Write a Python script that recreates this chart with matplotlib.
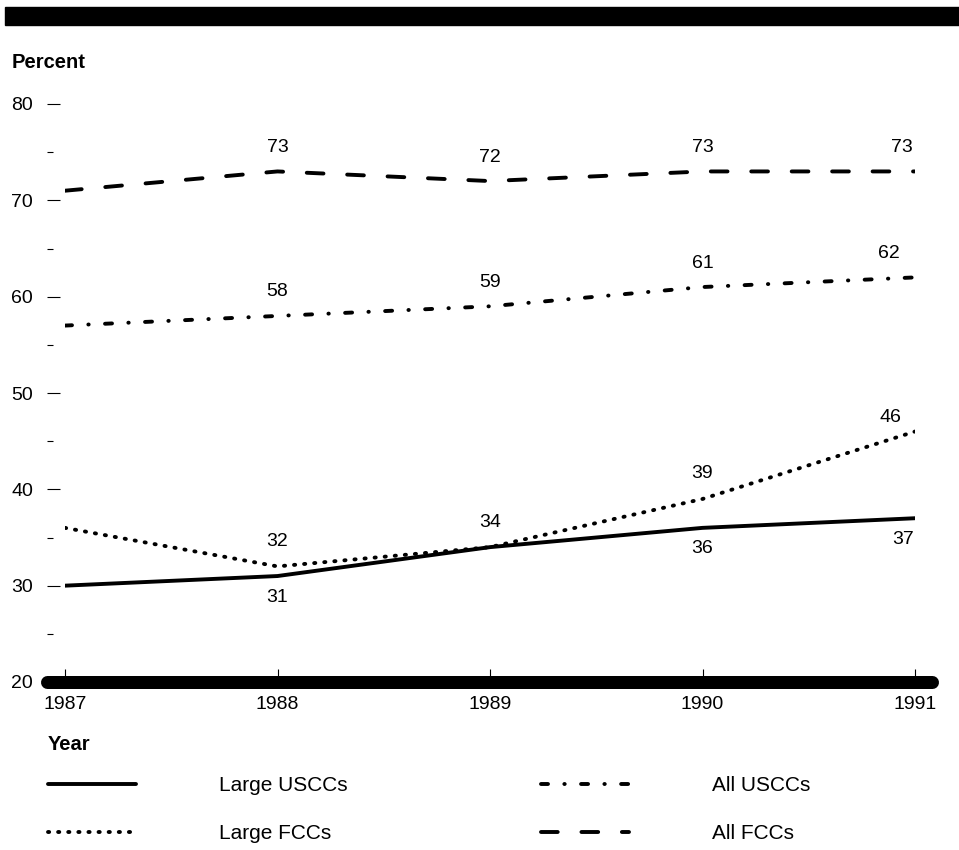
import matplotlib.pyplot as plt
from matplotlib.patches import Rectangle

plt.rcParams['font.family'] = ['Liberation Sans', 'DejaVu Sans']

# data
years = [1987, 1988, 1989, 1990, 1991]
large_usccs = [30, 31, 34, 36, 37]
large_fccs = [36, 32, 34, 39, 46]
all_usccs = [57, 58, 59, 61, 62]
all_fccs = [71, 73, 72, 73, 73]
y_major = [20, 30, 40, 50, 60, 70, 80]
y_minor = [25, 35, 45, 55, 65, 75]

fig = plt.figure(figsize=(9.59, 8.5), dpi=100)
ax = fig.add_axes([65 / 959, 1 - 682 / 850, 850 / 959, 578 / 850])

# black banner on top
fig.patches.append(Rectangle((5 / 959, 1 - 25 / 850), 1, 18 / 850,
                             transform=fig.transFigure, color='black'))

lw = 2.8
l1, = ax.plot(years, large_usccs, color='black', lw=lw, solid_capstyle='round',
              label='Large USCCs')
l2, = ax.plot(years, large_fccs, color='black', lw=lw, dashes=(0.3, 2.3),
              dash_capstyle='round', label='Large FCCs')
l3, = ax.plot(years, all_usccs, color='black', lw=lw, dashes=(1.8, 4.2, 0.1, 4.2),
              dash_capstyle='round', label='All USCCs')
l4, = ax.plot(years, all_fccs, color='black', lw=lw, dashes=(4.3, 6.1),
              dash_capstyle='round', label='All FCCs')

# value labels (1987 not labelled), offsets in pixels -> points
px = 0.72
def label(xs, ys, dy, shift_last=0, last_dy=None):
    for i, (x, y) in enumerate(zip(xs, ys)):
        if i == 0:
            continue
        dx = shift_last if i == len(xs) - 1 else 0
        d = last_dy if (last_dy is not None and i == len(xs) - 1) else dy
        ax.annotate(str(y), (x, y), xytext=(dx * px, d * px), textcoords='offset points',
                    ha='center', va='center', fontsize=14)

label(years, all_fccs, 24, shift_last=-13)
label(years, all_usccs, 24, shift_last=-26)
label(years, large_fccs, 25, shift_last=-25, last_dy=14)
for i in [1, 3, 4]:
    ax.annotate(str(large_usccs[i]), (years[i], large_usccs[i]),
                xytext=((-12 if i == 4 else 0) * px, -21 * px), textcoords='offset points',
                ha='center', va='center', fontsize=14)

ax.set_xlim(1987, 1991)
ax.set_ylim(20, 80)

for s in ax.spines.values():
    s.set_visible(False)
ax.spines['left'].set_position(('outward', 18 * px))

ax.set_yticks(y_major)
ax.set_yticks(y_minor, minor=True)
ax.tick_params(axis='y', which='major', direction='in', length=13 * px, width=0.8,
               pad=14 * px, labelsize=14)
ax.tick_params(axis='y', which='minor', direction='in', length=6 * px, width=0.8)
ax.set_xticks(years)
ax.tick_params(axis='x', direction='in', length=13 * px, width=0.8, pad=14 * px,
               labelsize=14)

# thick rounded baseline
ax.axhline(20, xmin=(47 - 65) / 850, xmax=(932 - 65) / 850, color='black', lw=13 * px,
           solid_capstyle='round', clip_on=False, zorder=5)

fig.text(12 / 959, 1 - 63 / 850, 'Percent', fontsize=14.5, fontweight='bold',
         ha='left', va='center')
fig.text(48 / 959, 1 - 745 / 850, 'Year', fontsize=14.5, fontweight='bold',
         ha='left', va='center')

fig.legend(handles=[l1, l2, l3, l4], loc='upper left',
           bbox_to_anchor=(48 / 959, 1 - 776 / 850), ncol=2, frameon=False,
           fontsize=15, borderpad=0, borderaxespad=0, handlelength=4.2,
           handletextpad=4.0, columnspacing=9.3, labelspacing=1.4)

fig.savefig('out.png', dpi=100)
